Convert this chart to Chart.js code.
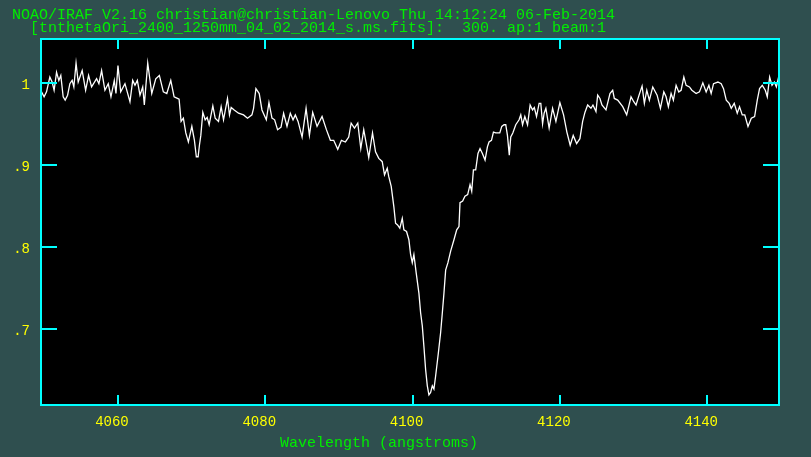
<!DOCTYPE html>
<html>
<head>
<meta charset="utf-8">
<title>IRAF splot</title>
<script src="https://cdn.jsdelivr.net/npm/chart.js@4.4.1/dist/chart.umd.min.js"></script>
<style>
  html, body { margin: 0; padding: 0; background: #2f4f4f; overflow: hidden; }
  canvas { display: block; }
</style>
</head>
<body>
<canvas id="spec" width="811" height="457"></canvas>
<script>
'use strict';

// spectrum (angstroms / normalised flux)
const wavelength = [
  4049.62, 4049.97, 4050.30, 4050.75, 4051.06, 4051.33, 4051.66, 4051.97, 4052.24, 4052.56,
  4052.83, 4053.16, 4053.47, 4053.78, 4054.01, 4054.31, 4054.60, 4055.14, 4055.61, 4056.01,
  4056.42, 4057.10, 4057.41, 4057.78, 4058.23, 4058.68, 4059.05, 4059.50, 4059.73, 4060.00,
  4060.37, 4060.95, 4061.63, 4062.00, 4062.31, 4062.63, 4062.99, 4063.36, 4063.58, 4064.04,
  4064.59, 4065.13, 4065.62, 4066.16, 4066.63, 4067.17, 4067.62, 4068.07, 4068.30, 4068.57,
  4068.88, 4069.21, 4069.56, 4070.03, 4070.38, 4070.64, 4070.88, 4071.06, 4071.25, 4071.52,
  4071.84, 4072.11, 4072.38, 4072.88, 4073.20, 4073.65, 4074.01, 4074.33, 4074.87, 4075.14,
  4075.37, 4075.78, 4076.37, 4077.05, 4077.59, 4078.19, 4078.41, 4078.73, 4079.18, 4079.55,
  4080.14, 4080.50, 4080.91, 4081.27, 4081.67, 4082.14, 4082.49, 4082.95, 4083.40, 4083.77,
  4084.08, 4084.45, 4085.00, 4085.54, 4085.99, 4086.44, 4087.03, 4087.71, 4088.30, 4088.84,
  4089.29, 4089.84, 4090.34, 4090.88, 4091.33, 4091.66, 4092.11, 4092.56, 4092.97, 4093.37,
  4094.05, 4094.56, 4094.97, 4095.41, 4095.65, 4095.88, 4096.19, 4096.56, 4096.76, 4097.10,
  4097.46, 4097.69, 4097.96, 4098.27, 4098.60, 4098.82, 4099.18, 4099.50, 4099.73, 4099.96,
  4100.18, 4100.50, 4100.86, 4101.09, 4101.32, 4101.54, 4101.77, 4102.00, 4102.22, 4102.45,
  4102.68, 4102.90, 4103.13, 4103.50, 4103.81, 4104.04, 4104.26, 4104.49, 4104.80, 4105.17,
  4105.62, 4105.99, 4106.30, 4106.44, 4106.80, 4107.11, 4107.48, 4107.80, 4108.03, 4108.26,
  4108.57, 4108.88, 4109.16, 4109.48, 4109.84, 4110.16, 4110.38, 4110.71, 4110.98, 4111.29,
  4111.84, 4112.11, 4112.42, 4112.65, 4112.88, 4113.13, 4113.33, 4113.61, 4114.01, 4114.46,
  4114.69, 4114.93, 4115.24, 4115.61, 4115.96, 4116.29, 4116.53, 4116.83, 4117.18, 4117.41,
  4117.65, 4117.86, 4118.10, 4118.30, 4118.54, 4119.01, 4119.46, 4120.00, 4120.50, 4120.95,
  4121.40, 4121.81, 4122.27, 4122.72, 4123.09, 4123.40, 4123.77, 4124.22, 4124.49, 4124.90,
  4125.13, 4125.44, 4125.71, 4126.26, 4126.80, 4127.17, 4127.39, 4127.85, 4128.53, 4129.07,
  4129.66, 4130.03, 4130.34, 4130.75, 4131.16, 4131.47, 4131.80, 4132.15, 4132.61, 4133.20,
  4133.65, 4134.11, 4134.42, 4134.73, 4135.10, 4135.41, 4135.78, 4136.14, 4136.46, 4136.83,
  4137.14, 4137.59, 4137.92, 4138.50, 4138.95, 4139.41, 4139.86, 4140.23, 4140.54, 4140.86,
  4141.46, 4141.90, 4142.22, 4142.59, 4142.99, 4143.27, 4143.67, 4144.08, 4144.39, 4144.76,
  4145.10, 4145.54, 4145.99, 4146.44, 4146.80, 4147.11, 4147.48, 4147.89, 4148.16, 4148.48,
  4148.80, 4149.12, 4149.39, 4149.75
];

const flux = [
  0.989, 0.983, 0.989, 1.007, 1.001, 0.991, 1.013, 1.003, 1.009, 0.983,
  0.979, 0.985, 0.999, 1.003, 0.995, 1.024, 1.001, 1.015, 0.991, 1.009,
  0.995, 1.005, 0.999, 1.015, 0.991, 0.999, 0.983, 1.003, 0.987, 1.021,
  0.989, 0.999, 0.977, 1.003, 0.997, 1.003, 0.985, 0.995, 0.973, 1.024,
  0.987, 1.005, 1.009, 0.989, 0.987, 1.003, 0.983, 0.981, 0.980, 0.953,
  0.957, 0.939, 0.928, 0.947, 0.930, 0.910, 0.910, 0.924, 0.936, 0.964,
  0.955, 0.958, 0.949, 0.972, 0.957, 0.953, 0.971, 0.955, 0.981, 0.961,
  0.970, 0.967, 0.963, 0.961, 0.957, 0.961, 0.969, 0.993, 0.987, 0.967,
  0.955, 0.976, 0.957, 0.955, 0.943, 0.946, 0.963, 0.947, 0.963, 0.955,
  0.961, 0.953, 0.934, 0.969, 0.936, 0.964, 0.947, 0.959, 0.943, 0.930,
  0.930, 0.919, 0.930, 0.928, 0.934, 0.951, 0.945, 0.951, 0.920, 0.943,
  0.909, 0.939, 0.916, 0.908, 0.906, 0.904, 0.888, 0.896, 0.886, 0.874,
  0.849, 0.829, 0.827, 0.823, 0.835, 0.821, 0.819, 0.809, 0.791, 0.781,
  0.791, 0.768, 0.744, 0.720, 0.704, 0.679, 0.651, 0.631, 0.620, 0.623,
  0.631, 0.627, 0.643, 0.671, 0.696, 0.720, 0.744, 0.772, 0.781, 0.795,
  0.809, 0.821, 0.825, 0.854, 0.856, 0.862, 0.864, 0.876, 0.868, 0.894,
  0.894, 0.914, 0.920, 0.914, 0.906, 0.922, 0.928, 0.930, 0.940, 0.939,
  0.939, 0.947, 0.949, 0.949, 0.936, 0.912, 0.934, 0.939, 0.949, 0.955,
  0.961, 0.949, 0.959, 0.949, 0.973, 0.967, 0.970, 0.959, 0.975, 0.975,
  0.950, 0.963, 0.969, 0.958, 0.945, 0.969, 0.953, 0.976, 0.961, 0.940,
  0.924, 0.936, 0.926, 0.932, 0.953, 0.964, 0.973, 0.969, 0.973, 0.965,
  0.985, 0.981, 0.973, 0.967, 0.987, 0.991, 0.981, 0.979, 0.971, 0.961,
  0.983, 0.977, 0.973, 0.985, 0.996, 0.975, 0.991, 0.979, 0.995, 0.985,
  0.969, 0.989, 0.983, 0.971, 0.987, 0.979, 0.997, 0.989, 0.991, 1.007,
  0.997, 0.995, 0.991, 0.987, 0.989, 1.000, 0.989, 0.997, 0.987, 0.999,
  1.001, 0.999, 0.993, 0.979, 0.975, 0.969, 0.975, 0.963, 0.971, 0.961,
  0.961, 0.947, 0.957, 0.959, 0.979, 0.993, 0.997, 0.991, 0.983, 1.007,
  0.997, 1.001, 0.995, 1.009
];

const xTicks = [4060, 4080, 4100, 4120, 4140];
const yTicks = [0.7, 0.8, 0.9, 1.0];
const xRange = [4049.55, 4149.75];
const yRange = [0.6077, 1.0534];

const titleLines = [
  'NOAO/IRAF V2.16 christian@christian-Lenovo Thu 14:12:24 06-Feb-2014',
  '  [tnthetaOri_2400_1250mm_04_02_2014_s.ms.fits]:  300. ap:1 beam:1'
];
const xTitle = 'Wavelength (angstroms)';

const MONO = '"Liberation Mono", "DejaVu Sans Mono", monospace';
const CYAN = '#00ffff';
const GREEN = '#00ee00';
const YELLOW = '#ffff00';

// black plot box, cyan frame with inward ticks, green labels
const irafFrame = {
  id: 'irafFrame',
  beforeDatasetsDraw(chart) {
    const { ctx, chartArea: a } = chart;
    ctx.save();
    ctx.fillStyle = '#000';
    ctx.fillRect(a.left, a.top, a.right - a.left, a.bottom - a.top);
    ctx.restore();
  },
  afterDraw(chart) {
    const { ctx, chartArea: a, scales } = chart;
    ctx.save();
    ctx.strokeStyle = CYAN;
    ctx.lineWidth = 2;
    ctx.strokeRect(a.left, a.top, a.right - a.left, a.bottom - a.top);
    ctx.beginPath();
    xTicks.forEach(v => {
      const px = Math.round(scales.x.getPixelForValue(v));
      ctx.moveTo(px, a.bottom); ctx.lineTo(px, a.bottom - 10);
      ctx.moveTo(px, a.top); ctx.lineTo(px, a.top + 10);
    });
    yTicks.forEach(v => {
      const py = Math.round(scales.y.getPixelForValue(v));
      ctx.moveTo(a.left, py); ctx.lineTo(a.left + 16, py);
      ctx.moveTo(a.right, py); ctx.lineTo(a.right - 16, py);
    });
    ctx.stroke();

    ctx.fillStyle = GREEN;
    ctx.font = '15px ' + MONO;
    ctx.textBaseline = 'alphabetic';
    ctx.textAlign = 'left';
    ctx.fillText(titleLines[0], 12, 19);
    ctx.fillText(titleLines[1], 12, 32);
    ctx.fillText(xTitle, 280, 447);
    ctx.restore();
  }
};

new Chart(document.getElementById('spec'), {
  type: 'line',
  data: {
    datasets: [{
      data: wavelength.map((w, i) => ({ x: w, y: flux[i] })),
      borderColor: '#ffffff',
      borderWidth: 1.3,
      pointRadius: 0,
      tension: 0,
      fill: false,
    }],
  },
  options: {
    responsive: false,
    animation: false,
    devicePixelRatio: 1,
    layout: { padding: { top: 39, right: 32, left: 0, bottom: 0 } },
    plugins: { legend: { display: false }, tooltip: { enabled: false } },
    scales: {
      x: {
        type: 'linear',
        min: xRange[0],
        max: xRange[1],
        grid: { display: false },
        border: { display: false },
        afterBuildTicks: axis => { axis.ticks = xTicks.map(v => ({ value: v })); },
        afterFit: axis => { axis.height = 52; },
        ticks: {
          color: YELLOW,
          font: { family: MONO, size: 14 },
          padding: 1,
          labelOffset: -6,
          maxRotation: 0,
          autoSkip: false,
          callback: v => String(v),
        },
      },
      y: {
        type: 'linear',
        min: yRange[0],
        max: yRange[1],
        grid: { display: false },
        border: { display: false },
        afterBuildTicks: axis => { axis.ticks = yTicks.map(v => ({ value: v })); },
        afterFit: axis => { axis.width = 41; },
        ticks: {
          color: YELLOW,
          font: { family: MONO, size: 14 },
          padding: 3,
          labelOffset: 2,
          autoSkip: false,
          callback: v => (v === 1 ? '1' : String(v).replace(/^0/, '')),
        },
      },
    },
  },
  plugins: [irafFrame],
});
</script>
</body>
</html>
